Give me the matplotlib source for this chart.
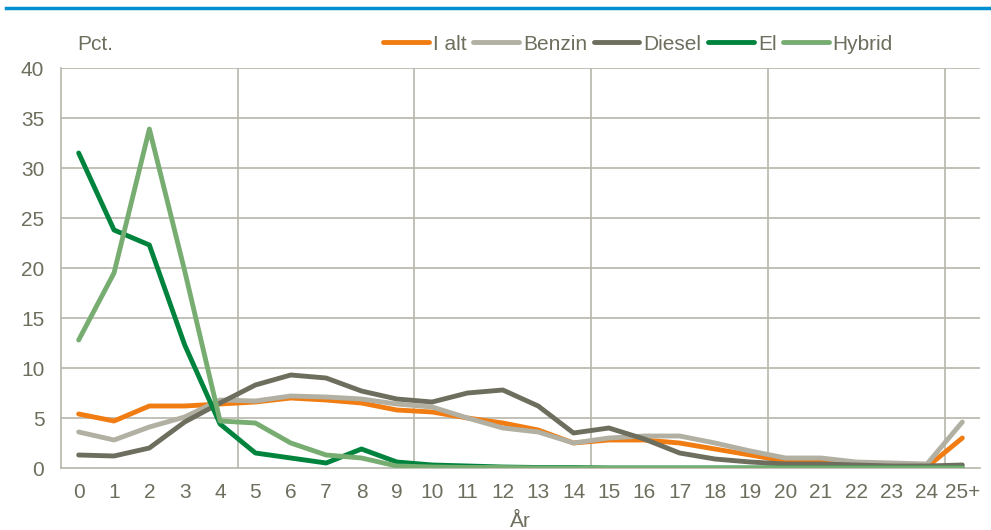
import numpy as np
import matplotlib.pyplot as plt

plt.rcParams['font.family'] = ['Liberation Sans', 'DejaVu Sans']

years = [str(i) for i in range(25)] + ['25+']

i_alt = [5.4, 4.7, 6.2, 6.2, 6.4, 6.6, 7.0, 6.8, 6.5, 5.8, 5.6, 5.0, 4.5,
         3.8, 2.5, 2.8, 2.8, 2.5, 1.9, 1.3, 0.7, 0.6, 0.3, 0.2, 0.1, 3.0]
benzin = [3.6, 2.8, 4.1, 5.1, 6.8, 6.7, 7.2, 7.1, 6.9, 6.4, 6.1, 5.0, 4.0,
          3.6, 2.5, 3.0, 3.2, 3.2, 2.5, 1.7, 1.0, 1.0, 0.6, 0.5, 0.4, 4.6]
diesel = [1.3, 1.2, 2.0, 4.6, 6.5, 8.3, 9.3, 9.0, 7.7, 6.9, 6.6, 7.5, 7.8,
          6.2, 3.5, 4.0, 2.9, 1.5, 0.9, 0.6, 0.4, 0.4, 0.3, 0.2, 0.2, 0.3]
el = [31.5, 23.8, 22.3, 12.3, 4.4, 1.5, 1.0, 0.5, 1.9, 0.6, 0.3, 0.2, 0.1,
      0.05, 0.05, 0.0, 0.0, 0.0, 0.0, 0.0, 0.0, 0.0, 0.0, 0.0, 0.0, 0.0]
hybrid = [12.8, 19.5, 33.9, 19.7, 4.7, 4.5, 2.5, 1.3, 1.0, 0.2, 0.1, 0.05,
          0.05, 0.0, 0.0, 0.0, 0.0, 0.0, 0.0, 0.0, 0.0, 0.0, 0.0, 0.0, 0.0, 0.0]

series = [
    ('I alt', i_alt, '#f07c12'),
    ('Benzin', benzin, '#b1b0a2'),
    ('Diesel', diesel, '#6e6e5e'),
    ('El', el, '#00843d'),
    ('Hybrid', hybrid, '#78ad72'),
]

text_col = '#6e6e5e'
grid_col = '#b8b6aa'
fs = 15

fig = plt.figure(figsize=(9.91, 5.30), dpi=100)
ax = fig.add_axes([61 / 991, 62 / 530, 919 / 991, 400 / 530])

x = np.arange(len(years))
for name, vals, col in series:
    ax.plot(x, vals, color=col, lw=3.5, label=name, solid_capstyle='round',
            solid_joinstyle='round', zorder=3)

ax.set_xlim(-0.5, len(years) - 0.5)
ax.set_ylim(0, 40)
ax.set_yticks(range(0, 41, 5))
ax.set_xticks(x)
ax.set_xticklabels(years)

for yv in range(5, 41, 5):
    ax.axhline(yv, color=grid_col, lw=1.2, zorder=1)
for xv in [4.5, 9.5, 14.5, 19.5, 24.5]:
    ax.axvline(xv, color=grid_col, lw=1.2, zorder=1)

for s in ['top', 'right']:
    ax.spines[s].set_visible(False)
for s in ['left', 'bottom']:
    ax.spines[s].set_color(grid_col)
    ax.spines[s].set_linewidth(1.2)

ax.tick_params(axis='both', length=0, labelsize=fs, colors=text_col)
ax.tick_params(axis='x', pad=11)
ax.tick_params(axis='y', pad=12)

ax.set_xlabel('År', fontsize=fs, color=text_col, labelpad=7)

fig.text(77 / 991, 1 - 44 / 530, 'Pct.', fontsize=fs, color=text_col,
         va='center', ha='left')

leg = fig.legend(*ax.get_legend_handles_labels(), loc='center right',
                 bbox_to_anchor=(893 / 991, 1 - 44 / 530), ncol=5,
                 frameon=False, fontsize=fs, handlelength=2.2,
                 handletextpad=0.2, columnspacing=0.3, borderaxespad=0,
                 borderpad=0)
for t in leg.get_texts():
    t.set_color(text_col)

# blue rule at the top of the figure
fig.add_artist(plt.Line2D([6 / 991, 1.0], [1 - 8 / 530, 1 - 8 / 530],
                          color='#0090d0', lw=2.5, transform=fig.transFigure))

fig.savefig('out.png', dpi=100)
